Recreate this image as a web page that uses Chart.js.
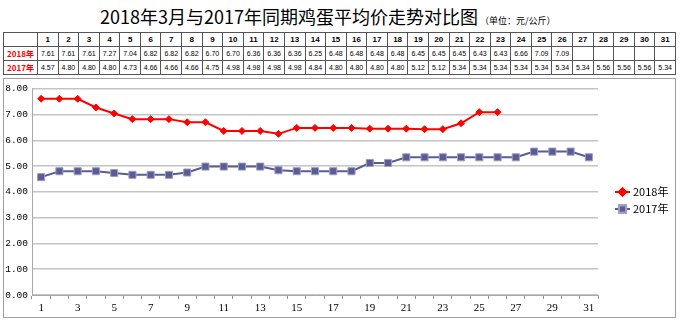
<!DOCTYPE html>
<html>
<head>
<meta charset="utf-8">
<script src="https://cdn.jsdelivr.net/npm/chart.js@4/dist/chart.umd.min.js"></script>
<style>
  html, body { margin: 0; padding: 0; background: #fff; }
  body { width: 680px; height: 323px; position: relative; overflow: hidden; }
  #title {
    position: absolute; left: 100px; top: 3px; white-space: nowrap;
    font-family: "Noto Sans CJK SC", sans-serif; font-size: 18px; color: #000;
  }
  #title .unit { font-size: 9px; margin-left: 2px; }
  #tbl {
    position: absolute; left: 3px; top: 32px; width: 673px;
    border-collapse: collapse; table-layout: fixed;
    font-family: "Liberation Sans", Arial, sans-serif; color: #000;
  }
  #tbl td {
    border: 1px solid #555; height: 13px; padding: 0; text-align: center;
    font-size: 7px; line-height: 13px; overflow: hidden; white-space: nowrap;
  }
  #tbl tr.head td { font-weight: bold; font-size: 8px; }
  #tbl td.rowname {
    color: #ff0000; font-weight: bold; font-size: 8px;
    font-family: "Noto Sans CJK SC", sans-serif;
  }
  #box {
    position: absolute; left: 3px; top: 78px; width: 671px; height: 238px;
    border: 1px solid #a0a0a0;
  }
  #c { display: block; }
</style>
</head>
<body>
<div id="title">2018年3月与2017年同期鸡蛋平均价走势对比图<span class="unit">（单位：元/公斤）</span></div>
<table id="tbl"><colgroup id="cols"></colgroup><tbody id="tb"></tbody></table>
<div id="box"><canvas id="c" width="671" height="238"></canvas></div>
<script>
// Days of March
const days = ['1','2','3','4','5','6','7','8','9','10','11','12','13','14','15','16',
  '17','18','19','20','21','22','23','24','25','26','27','28','29','30','31'];
// Average egg price, yuan per kg
const price2018 = [7.61, 7.61, 7.61, 7.27, 7.04, 6.82, 6.82, 6.82, 6.70, 6.70, 6.36, 6.36, 6.36,
  6.25, 6.48, 6.48, 6.48, 6.48, 6.45, 6.45, 6.45, 6.43, 6.43, 6.66, 7.09, 7.09,
  null, null, null, null, null];
const price2017 = [4.57, 4.80, 4.80, 4.80, 4.73, 4.66, 4.66, 4.66, 4.75, 4.98, 4.98, 4.98, 4.98,
  4.84, 4.80, 4.80, 4.80, 4.80, 5.12, 5.12, 5.34, 5.34, 5.34, 5.34, 5.34, 5.34,
  5.34, 5.56, 5.56, 5.56, 5.34];
const seriesNames = ['2018年', '2017年'];
const yTicks = [0, 1, 2, 3, 4, 5, 6, 7, 8];

// Data table above the chart
(function buildTable() {
  const cols = document.getElementById('cols');
  const first = document.createElement('col');
  first.style.width = '34px';
  cols.appendChild(first);
  days.forEach(() => cols.appendChild(document.createElement('col')));
  const tb = document.getElementById('tb');
  const head = document.createElement('tr');
  head.className = 'head';
  head.appendChild(document.createElement('td'));
  days.forEach(d => { const td = document.createElement('td'); td.textContent = d; head.appendChild(td); });
  tb.appendChild(head);
  [price2018, price2017].forEach((arr, k) => {
    const tr = document.createElement('tr');
    const name = document.createElement('td');
    name.className = 'rowname';
    name.textContent = seriesNames[k];
    tr.appendChild(name);
    arr.forEach(v => {
      const td = document.createElement('td');
      td.textContent = v == null ? '' : v.toFixed(2);
      tr.appendChild(td);
    });
    tb.appendChild(tr);
  });
})();

// Legend on the right, drawn from the dataset styles
const sideLegend = {
  id: 'sideLegend',
  afterDraw(chart) {
    const ctx = chart.ctx;
    const x0 = 611, x1 = 626, top = 113, gap = 17;
    chart.data.datasets.forEach((ds, i) => {
      const y = top + i * gap;
      ctx.save();
      ctx.strokeStyle = ds.borderColor;
      ctx.lineWidth = ds.borderWidth;
      ctx.beginPath();
      ctx.moveTo(x0, y);
      ctx.lineTo(x1, y);
      ctx.stroke();
      Chart.helpers.drawPoint(ctx, {
        pointStyle: ds.pointStyle, radius: ds.pointRadius, borderWidth: ds.pointBorderWidth
      }, (x0 + x1) / 2, y);
      ctx.fillStyle = ds.pointBackgroundColor;
      ctx.strokeStyle = ds.pointBorderColor;
      ctx.fill();
      ctx.stroke();
      ctx.fillStyle = '#000';
      ctx.font = '11px "Noto Sans CJK SC", sans-serif';
      ctx.textBaseline = 'middle';
      ctx.textAlign = 'left';
      ctx.fillText(ds.label, x1 + 3, y);
      ctx.restore();
    });
  }
};

new Chart(document.getElementById('c'), {
  type: 'line',
  data: {
    labels: days,
    datasets: [
      {
        label: seriesNames[0], data: price2018,
        borderColor: '#ff0000', backgroundColor: '#ff0000', borderWidth: 2,
        pointStyle: 'rectRot', pointRadius: 3.5, pointBorderWidth: 1,
        pointBackgroundColor: '#ff0000', pointBorderColor: '#ff0000',
        tension: 0, spanGaps: false
      },
      {
        label: seriesNames[1], data: price2017,
        borderColor: '#5c5c94', backgroundColor: '#5c5c94', borderWidth: 2,
        pointStyle: 'rect', pointRadius: 5, pointBorderWidth: 1,
        pointBackgroundColor: '#5c5c94', pointBorderColor: '#9c9cc4',
        tension: 0
      }
    ]
  },
  options: {
    responsive: false,
    animation: false,
    events: [],
    layout: { padding: { left: 0, right: 77, top: 8, bottom: 0 } },
    plugins: { legend: { display: false }, tooltip: { enabled: false } },
    scales: {
      x: {
        offset: true,
        grid: { offset: true, drawOnChartArea: false, drawTicks: true, tickLength: 4, color: '#909090', lineWidth: 1 },
        border: { color: '#a8a8a8', width: 1 },
        ticks: {
          autoSkip: false, maxRotation: 0, padding: 3, color: '#000',
          font: { family: '"Liberation Serif", serif', size: 11 },
          callback: (v, i) => (i % 2 === 0 ? days[i] : '')
        },
        afterFit(s) { s.height = 22; }
      },
      y: {
        min: yTicks[0], max: yTicks[yTicks.length - 1],
        afterBuildTicks(s) { s.ticks = yTicks.map(v => ({ value: v })); },
        grid: { color: '#c4c4c4', lineWidth: 1.5, drawTicks: false },
        border: { color: '#a8a8a8', width: 1 },
        ticks: {
          padding: 4, color: '#000',
          font: { family: '"Liberation Mono", monospace', size: 9.5 },
          callback: v => Number(v).toFixed(2)
        },
        afterFit(s) { s.width = 28; }
      }
    }
  },
  plugins: [sideLegend]
});
</script>
</body>
</html>
